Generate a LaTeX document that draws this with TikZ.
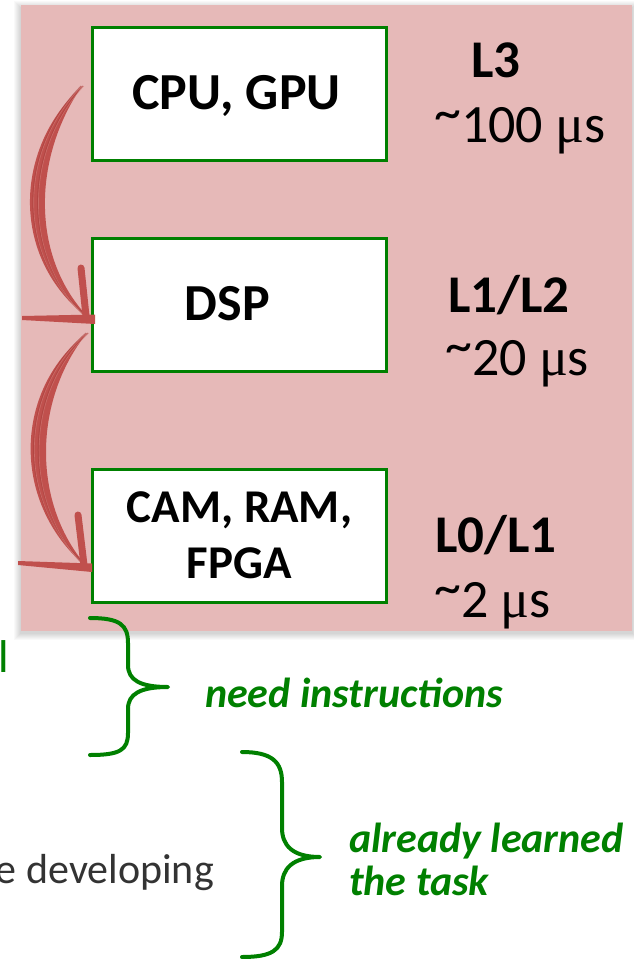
\documentclass[tikz,border=0pt]{standalone}
\usepackage{fontspec}
\setmainfont{Carlito}
\newfontfamily\mufont{Liberation Serif}
\usetikzlibrary{calc}
\definecolor{panelpink}{HTML}{E6B9B8}
\definecolor{boxgreen}{HTML}{008000}
\definecolor{brushred}{HTML}{C0504D}
\definecolor{brushdark}{HTML}{A9403D}
\definecolor{brushlight}{HTML}{D47F7B}
\definecolor{textgray}{HTML}{333333}
\newcommand{\musec}{{\mufont μ}s}
\newcommand{\hitilde}{\raisebox{0.22em}{\textasciitilde}}
\begin{document}
\begin{tikzpicture}[x=1pt,y=-1pt,
  hwbox/.style={draw=boxgreen, line width=3pt, fill=white,
    minimum width=294pt, minimum height=133pt, inner sep=0pt,
    align=center},
  bigbold/.style={font=\fontsize{52}{56}\selectfont\bfseries,
    text height=32.9pt, text depth=0pt},
  lvl/.style={anchor=base west, inner sep=0pt,
    font=\fontsize{53}{60}\selectfont\bfseries},
  lat/.style={anchor=base west, inner sep=0pt,
    font=\fontsize{54}{60}\selectfont},
  note/.style={anchor=base west, inner sep=0pt, text=boxgreen,
    font=\fontsize{42}{46}\selectfont\bfseries\itshape},
  brace/.style={draw=boxgreen, line width=4pt, line cap=round, line join=round},
  brush/.style={fill=brushred, draw=none},
  streak/.style={draw=brushdark, line width=1pt, opacity=0.6},
  lightstreak/.style={draw=brushlight, line width=0.6pt, opacity=0.6},
  barb/.style={draw=brushred, line cap=round}
]
\useasboundingbox (0,0) rectangle (634,959);
\fill[white] (0,0) rectangle (634,959);

% panel shadow
\foreach \i in {1,...,7}{
  \fill[black, opacity=0.025] (21-\i,5-\i+3) rectangle (632+\i,631+\i+2);
}
\fill[panelpink] (21,5) rectangle (632,631);

% boxes
\node[hwbox, bigbold] (cpu) at (239.5,93.5) {CPU, GPU\kern6pt};
\node[hwbox, bigbold] (dsp) at (239.5,304.5) {DSP\kern24pt};
\node[hwbox, font=\fontsize{47}{56}\selectfont\bfseries] (cam) at (239.5,535.5) {CAM, RAM,\\FPGA};

% level labels
\node[lvl] (l3) at (471,77) {L3};
\node[lat] (t3) at (434,142) {\hitilde100 \musec};
\node[lvl] (l12) at (448,312) {L1/L2};
\node[lat] (t12) at (445,375) {\hitilde20 \musec};
\node[lvl] (l01) at (435,552) {L0/L1};
\node[lat] (t01) at (434,617) {\hitilde2 \musec};

% brush arrows
\coordinate (a1s) at (82,86);
\coordinate (a1e) at (92,321);
\fill[brush] (a1s) .. controls (12,150) and (10,262) .. (a1e)
  .. controls (31,262) and (31,160) .. (a1s);
\foreach \d in {-3,3}{
  \draw[streak] ($(a1s)+(\d*0.3,0)$) .. controls (19+\d,152) and (17+\d,262) .. ($(a1e)+(0,\d*0.4)$);
}
\foreach \d in {0,6}{
  \draw[lightstreak] ($(a1s)+(\d*0.3,0)$) .. controls (17+\d,152) and (15+\d,262) .. ($(a1e)+(0,\d*0.4)$);
}
\draw[barb, line width=7pt] (81,268) -- (86,316);
\fill[brushred] (22,316) -- (95,314.5) -- (95,324) -- (22,320) -- cycle;

\coordinate (a2s) at (87,333);
\coordinate (a2e) at (89,569);
\fill[brush] (a2s) .. controls (13,390) and (10,505) .. (a2e)
  .. controls (31,505) and (33,400) .. (a2s);
\foreach \d in {-3,3}{
  \draw[streak] ($(a2s)+(\d*0.3,0)$) .. controls (20+\d,392) and (17+\d,505) .. ($(a2e)+(0,\d*0.4)$);
}
\foreach \d in {0,6}{
  \draw[lightstreak] ($(a2s)+(\d*0.3,0)$) .. controls (18+\d,392) and (15+\d,505) .. ($(a2e)+(0,\d*0.4)$);
}
\draw[barb, line width=7pt] (78,515) -- (84,565);
\fill[brushred] (18,561) -- (92,563.5) -- (92,572) -- (18,565) -- cycle;

% braces
\draw[brace] (90,618) .. controls (120,618) and (128,625) .. (128,643)
  -- (128,665) .. controls (128,680) and (140,687) .. (168,687)
  .. controls (140,687) and (128,694) .. (128,709)
  -- (128,733) .. controls (128,750) and (120,755) .. (90,755);
\draw[brace] (242,752) .. controls (272,752) and (282,762) .. (282,782)
  -- (282,828) .. controls (282,845) and (292,857) .. (320,857)
  .. controls (292,857) and (282,869) .. (282,886)
  -- (282,932) .. controls (282,950) and (272,957) .. (242,957);

% notes
\node[note] (need) at (205,707) {need instructions};
\node[note] (learned) at (349,852) {already learned};
\node[note] (task) at (349,895) {the task};

% partial texts at left edge
\node[anchor=base west, inner sep=0pt, text=boxgreen,
  font=\fontsize{46}{50}\selectfont] (frag) at (-2,672) {l};
\node[anchor=base east, inner sep=0pt, text=textgray,
  font=\fontsize{42}{46}\selectfont] (dev) at (214,883) {e developing};
\end{tikzpicture}
\end{document}
